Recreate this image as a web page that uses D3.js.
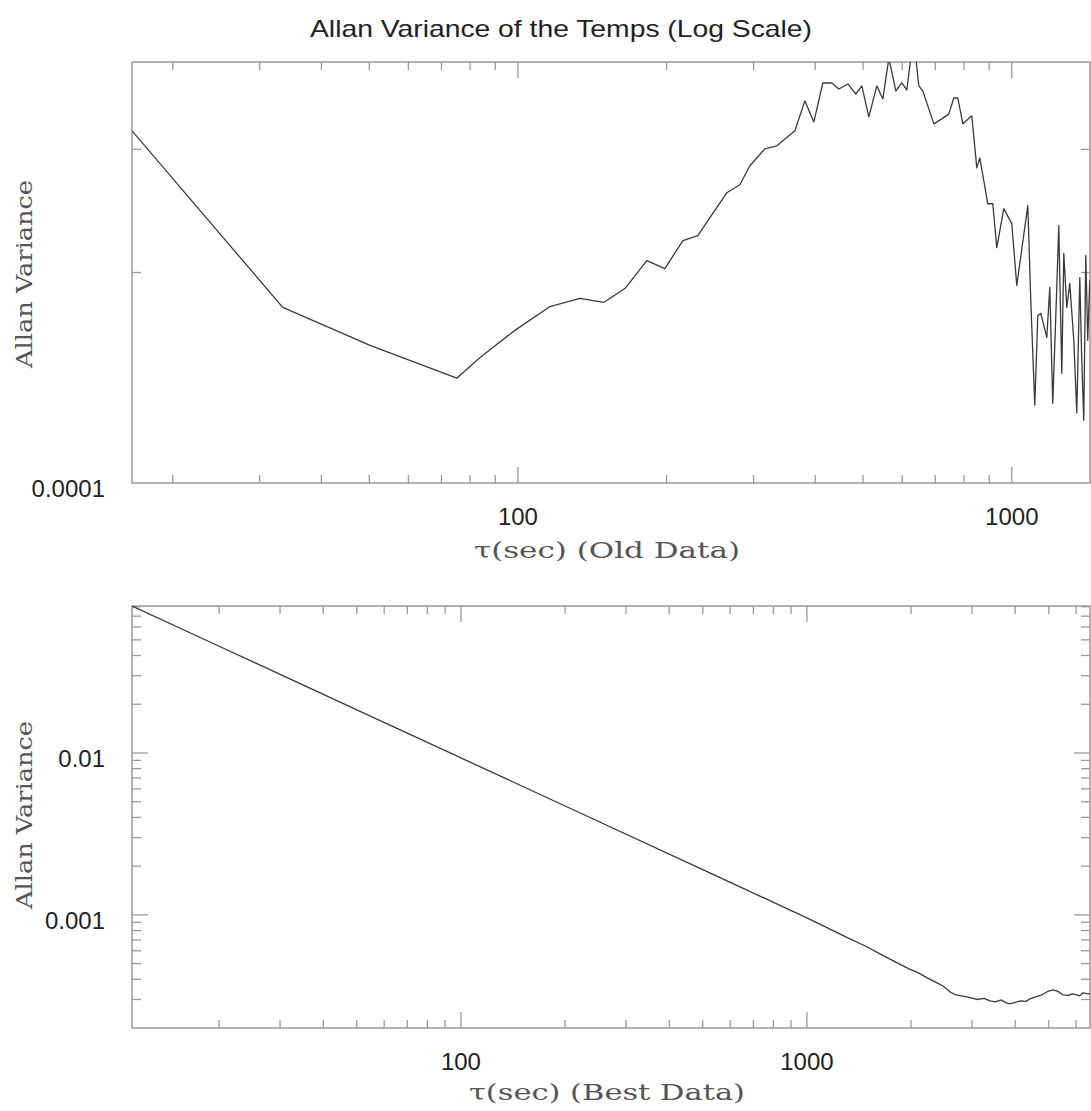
<!DOCTYPE html>
<html><head><meta charset="utf-8">
<script src="https://cdn.jsdelivr.net/npm/d3@7/dist/d3.min.js"></script>
<style>body{margin:0;background:#fff}svg{display:block}</style>
</head><body>
<svg id="chart" width="1091" height="1111"></svg>
<script>
// ---- data ----
const chartTitle = "Allan Variance of the Temps (Log Scale)";
const yLabel = "Allan Variance";
const xLabelOld = "\u03c4(sec) (Old Data)";
const xLabelBest = "\u03c4(sec) (Best Data)";

const oldTau = [16.54,33.4,50.2,75.2,83.8,98.6,116.1,133.5,149.3,164.7,182.4,198.4,215.8,231.3,264.9,281.4,294.9,316.2,334.4,363.7,381.1,397.4,414.4,432.2,446.5,465.6,483.3,497.0,513.5,533.0,548.2,563.7,582.4,598.9,613.0,624.5,639.3,648.3,660.5,695.3,721.7,745.6,763.2,777.6,795.9,829.9,849.5,861.5,894.3,915.2,932.4,963.4,1000,1023.5,1077.5,1092.6,1113.2,1128.9,1144.8,1177.3,1193.8,1210.6,1233.4,1244.9,1262.5,1274.4,1292.2,1310.5,1335.2,1354.0,1373.1,1385.8,1398.7,1412.0,1425.0,1438.5];
const oldVar = [3.189e-4,1.783e-4,1.573e-4,1.412e-4,1.512e-4,1.653e-4,1.788e-4,1.836e-4,1.813e-4,1.897e-4,2.080e-4,2.026e-4,2.222e-4,2.259e-4,2.601e-4,2.670e-4,2.842e-4,3.005e-4,3.035e-4,3.189e-4,3.519e-4,3.284e-4,3.733e-4,3.733e-4,3.660e-4,3.721e-4,3.600e-4,3.697e-4,3.338e-4,3.697e-4,3.542e-4,4.05e-4,3.636e-4,3.733e-4,3.648e-4,4.05e-4,4.05e-4,3.697e-4,3.636e-4,3.263e-4,3.317e-4,3.372e-4,3.553e-4,3.553e-4,3.263e-4,3.350e-4,2.823e-4,2.917e-4,2.508e-4,2.508e-4,2.171e-4,2.468e-4,2.349e-4,1.916e-4,2.492e-4,1.824e-4,1.292e-4,1.736e-4,1.748e-4,1.615e-4,1.904e-4,1.300e-4,1.904e-4,2.334e-4,1.435e-4,2.129e-4,1.783e-4,1.929e-4,1.600e-4,1.259e-4,1.967e-4,1.497e-4,1.230e-4,2.115e-4,1.600e-4,1.948e-4];

const bestTau = [11.2,20,50,100,200,500,1000,1150,1331,1480,1626,1800,1972,2100,2200,2376,2480,2590,2700,2850,2978,3100,3250,3381,3500,3650,3750,3861,4000,4150,4300,4410,4600,4777,4950,5140,5300,5495,5700,5850,6030,6150,6276,6400,6576];
const bestVar = [0.0809,0.04565,0.01848,0.00932,0.004706,0.001904,0.000958,0.000828,0.000711,0.000640,0.000574,0.000512,0.000464,0.000438,0.000414,0.0003804,0.000362,0.0003347,0.000320,0.000314,0.0003074,0.0003,0.000305,0.0002945,0.00029,0.000298,0.000287,0.0002822,0.000288,0.000294,0.000292,0.0003031,0.000312,0.0003208,0.000335,0.0003444,0.000338,0.0003208,0.000318,0.000325,0.0003208,0.000316,0.00033,0.000327,0.0003253];

const oldXDomain = [16.54, 1440];
const oldYDomain = [1e-4, 4e-4];
const bestXDomain = [11.2, 6580];
const bestYDomain = [2e-4, 0.0809];
const oldXTickLabels = ["100", "1000"];
const oldYTickLabels = ["0.0001"];
const bestXTickLabels = ["100", "1000"];
const bestYTickLabels = ["0.01", "0.001"];

// ---- drawing ----
const svg = d3.select("#chart");
const axisColor = "#9a9a9a", lineColor = "#3a3a3a";
const labelFont = "'Liberation Sans', Arial, sans-serif";
const serifFont = "'DejaVu Serif', serif";

svg.append("text").attr("x", 561).attr("y", 37).attr("text-anchor", "middle")
  .attr("font-family", labelFont).attr("font-size", 24).attr("fill", "#222")
  .attr("textLength", 502).attr("lengthAdjust", "spacingAndGlyphs").text(chartTitle);

function panel(id, box, xDom, yDom, tau, vals, xTickLabels, yTickLabels, xLabel, xLabelY, xLabelLen, yLabelCY) {
  const x = d3.scaleLog().domain(xDom).range([box.l, box.r]);
  const y = d3.scaleLog().domain(yDom).range([box.b, box.t]);
  const g = svg.append("g");
  g.append("clipPath").attr("id", id).append("rect")
    .attr("x", box.l).attr("y", box.t).attr("width", box.r - box.l).attr("height", box.b - box.t);

  const isMajor = v => Math.abs(Math.log10(v) - Math.round(Math.log10(v))) < 1e-9;
  const isDigit = v => { const m = v / Math.pow(10, Math.floor(Math.log10(v) + 1e-9)); return Math.abs(m - Math.round(m)) < 1e-6; };
  const xt = x.ticks().filter(v => isDigit(v) && v >= xDom[0] * 1.0001 && v <= xDom[1] * 0.9999);
  const yt = y.ticks().filter(v => isDigit(v) && v >= yDom[0] * 1.0001 && v <= yDom[1] * 0.9999);
  const tick = g.append("g").attr("stroke", axisColor).attr("stroke-width", 1.3);
  xt.forEach(v => {
    const len = isMajor(v) ? 16 : 8;
    tick.append("line").attr("x1", x(v)).attr("x2", x(v)).attr("y1", box.b).attr("y2", box.b - len);
    tick.append("line").attr("x1", x(v)).attr("x2", x(v)).attr("y1", box.t).attr("y2", box.t + len);
  });
  yt.forEach(v => {
    const len = isMajor(v) ? 16 : 9;
    tick.append("line").attr("y1", y(v)).attr("y2", y(v)).attr("x1", box.l).attr("x2", box.l + len);
    tick.append("line").attr("y1", y(v)).attr("y2", y(v)).attr("x1", box.r).attr("x2", box.r - len);
  });
  g.append("rect").attr("x", box.l).attr("y", box.t).attr("width", box.r - box.l).attr("height", box.b - box.t)
    .attr("fill", "none").attr("stroke", axisColor).attr("stroke-width", 1.5);

  const line = d3.line().x((d, i) => x(tau[i])).y(d => y(d));
  g.append("path").datum(vals).attr("d", line).attr("clip-path", `url(#${id})`)
    .attr("fill", "none").attr("stroke", lineColor).attr("stroke-width", 1.3).attr("stroke-linejoin", "round");

  xTickLabels.forEach(s => {
    g.append("text").attr("x", x(+s)).attr("y", box.b + 42).attr("text-anchor", "middle")
      .attr("font-family", labelFont).attr("font-size", 24).attr("fill", "#222").text(s);
  });
  yTickLabels.forEach(s => {
    g.append("text").attr("x", 105).attr("y", y(+s) + 14).attr("text-anchor", "end")
      .attr("font-family", labelFont).attr("font-size", 24).attr("fill", "#222").text(s);
  });
  g.append("text").attr("x", 607).attr("y", xLabelY).attr("text-anchor", "middle")
    .attr("font-family", serifFont).attr("font-size", 23).attr("fill", "#555")
    .attr("textLength", xLabelLen).attr("lengthAdjust", "spacingAndGlyphs").text(xLabel);
  g.append("text").attr("transform", `translate(32,${yLabelCY}) rotate(-90)`).attr("text-anchor", "middle")
    .attr("font-family", serifFont).attr("font-size", 23).attr("fill", "#555")
    .attr("textLength", 188).attr("lengthAdjust", "spacingAndGlyphs").text(yLabel);
}

panel("clipOld", {l: 132, r: 1090, t: 62, b: 483}, oldXDomain, oldYDomain, oldTau, oldVar,
  oldXTickLabels, oldYTickLabels, xLabelOld, 558, 266, 274);
panel("clipBest", {l: 132, r: 1090, t: 606, b: 1028}, bestXDomain, bestYDomain, bestTau, bestVar,
  bestXTickLabels, bestYTickLabels, xLabelBest, 1100, 276, 815);
</script>
</body></html>
